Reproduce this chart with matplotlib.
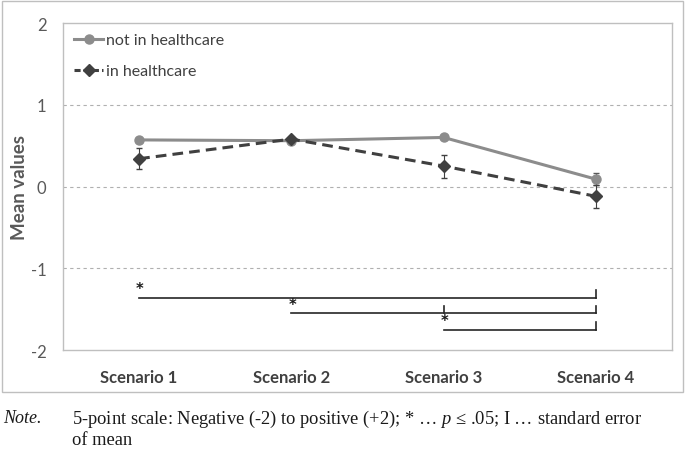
import matplotlib
matplotlib.use("Agg")
import matplotlib.pyplot as plt
from matplotlib.patches import Rectangle
from matplotlib.lines import Line2D

plt.rcParams["mathtext.fontset"] = "custom"
plt.rcParams["mathtext.it"] = "Liberation Serif:italic"
plt.rcParams["mathtext.rm"] = "Liberation Serif"

categories = ["Scenario 1", "Scenario 2", "Scenario 3", "Scenario 4"]
not_hc = [0.57, 0.56, 0.60, 0.09]
not_hc_se = [0.0, 0.0, 0.0, 0.07]
in_hc = [0.34, 0.58, 0.25, -0.12]
in_hc_se = [0.13, 0.03, 0.14, 0.14]
yticks = [-2, -1, 0, 1, 2]
# significance brackets: (start index, end index, y level, inner tick indices)
brackets = [(0, 3, -1.36, [3]), (1, 3, -1.55, [2, 3]), (2, 3, -1.75, [3])]
note = "5-point scale: Negative (-2) to positive (+2); * \u2026 $p$ \u2264 .05; I \u2026 standard error"
note2 = "of mean"

fig = plt.figure(figsize=(6.85, 4.56), dpi=100)
W, H = 685, 456
ax = fig.add_axes([63 / W, 1 - 351 / H, (672 - 63) / W, (351 - 24) / H])

# outer chart border
fig.patches.append(Rectangle((2 / W, 1 - 393 / H), 681 / W, 391 / H,
                             transform=fig.transFigure, fill=False,
                             edgecolor="#bfbfbf", linewidth=1.0))

x = list(range(len(categories)))
for yv in [-1, 0, 1]:
    ax.axhline(yv, color="#b0b0b0", linestyle=(0, (3, 3)), linewidth=0.8, zorder=0)

c1, c2 = "#8c8c8c", "#404040"
ax.errorbar(x, not_hc, yerr=not_hc_se, color=c1, linewidth=2.2,
            marker="o", markersize=6.5, ecolor="#595959", elinewidth=0.8,
            capsize=2, zorder=3)
ax.errorbar(x, in_hc, yerr=in_hc_se, color=c2, linewidth=2.2,
            linestyle=(0, (3.5, 2)), marker="D", markersize=6.5,
            ecolor=c2, elinewidth=0.8, capsize=2, zorder=4)

for s, e, yl, ticks in brackets:
    ax.plot([s, e], [yl, yl], color="#262626", linewidth=1.2)
    for t in ticks:
        ax.plot([t, t], [yl, yl + 0.09], color="#262626", linewidth=1.2)
    ax.text(s - 0.02, yl + 0.02, "*", fontsize=10.5, fontweight="bold",
            ha="left", va="bottom", color="#1a1a1a")

ax.set_xlim(-0.5, 3.5)
ax.set_ylim(-2, 2)
ax.set_yticks(yticks)
ax.set_yticklabels([str(v) for v in yticks], fontsize=12, color="#595959",
                   family="Lato")
ax.set_xticks(x)
ax.set_xticklabels(categories, fontsize=12, fontweight="bold", color="#404040",
                   family="Lato")
ax.tick_params(length=0, pad=14, axis="x")
ax.tick_params(length=0, pad=12, axis="y")
ax.set_ylabel("Mean values", fontsize=13.5, fontweight="bold", color="#595959",
              family="Lato")
ax.yaxis.set_label_coords((28 - 63) / (672 - 63), 0.5)
for sp in ax.spines.values():
    sp.set_color("#bfbfbf")
    sp.set_linewidth(1.0)

handles = [Line2D([], [], color=c1, linewidth=2.2, marker="o", markersize=6.5),
           Line2D([], [], color=c2, linewidth=2.2, linestyle=(0, (2, 1)),
                  marker="D", markersize=6)]
leg = ax.legend(handles, ["not in healthcare", "in healthcare"],
                loc="upper left", frameon=False,
                handlelength=1.8, handletextpad=0.2, labelspacing=1.05,
                borderaxespad=0.3, bbox_to_anchor=(0.0, 1.0 + 1 / 327),
                prop={"family": "Lato", "size": 11.5})
for t in leg.get_texts():
    t.set_color("#404040")

fig.text(3 / W, 1 - 419 / H, "Note.", fontsize=13, style="italic",
         family="Liberation Serif", va="center", color="#1a1a1a")
fig.text(72 / W, 1 - 419 / H, note, fontsize=13.3, family="Liberation Serif",
         va="center", color="#1a1a1a")
fig.text(72 / W, 1 - 441 / H, note2, fontsize=13.3, family="Liberation Serif",
         va="center", color="#1a1a1a")

fig.savefig("out.png", dpi=100)
